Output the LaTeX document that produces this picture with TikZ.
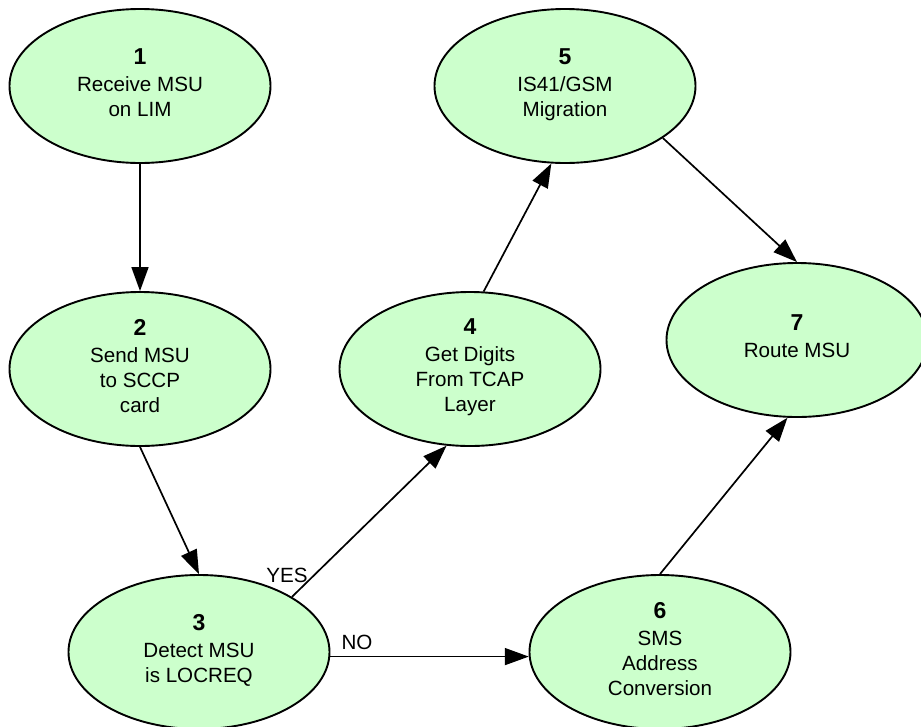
\documentclass[tikz,border=0pt]{standalone}
\usepackage{fontspec}
\setmainfont{Liberation Sans}
\usetikzlibrary{shapes.geometric,arrows.meta}
\definecolor{nodegreen}{RGB}{204,255,204}
\newcommand{\lowpad}{\rule[-7pt]{0pt}{7pt}}
\begin{document}
\begin{tikzpicture}[x=1pt,y=-1pt,
  stepnode/.style={ellipse,draw=black,line width=1.9pt,fill=nodegreen,
    minimum width=261pt,minimum height=154pt,inner sep=0pt,align=center,
    font=\fontsize{20.6}{25}\selectfont},
  conn/.style={line width=1.7pt,-{Triangle[length=24pt,width=17pt]}},
  lbl/.style={font=\fontsize{20.6}{24}\selectfont,inner sep=0pt}]
\useasboundingbox (0,0) rectangle (921,726);
\node[stepnode] (n1) at (140,86) {{\fontsize{23}{25}\selectfont\bfseries 1}\\[2pt]Receive MSU\\on LIM\lowpad};
\node[stepnode] (n2) at (140,369) {{\fontsize{23}{25}\selectfont\bfseries 2}\\[2pt]Send MSU\\to SCCP\\card\lowpad};
\node[stepnode] (n3) at (199,652) {{\fontsize{23}{25}\selectfont\bfseries 3}\\[2pt]Detect MSU\\is LOCREQ\lowpad};
\node[stepnode] (n4) at (470,369) {{\fontsize{23}{25}\selectfont\bfseries 4}\\[2pt]Get Digits\\From TCAP\\Layer\lowpad};
\node[stepnode] (n5) at (565,86) {{\fontsize{23}{25}\selectfont\bfseries 5}\\[2pt]IS41/GSM\\Migration\lowpad};
\node[stepnode] (n6) at (660,652) {{\fontsize{23}{25}\selectfont\bfseries 6}\\[2pt]SMS\\Address\\Conversion\lowpad};
\node[stepnode] (n7) at (797,340) {{\fontsize{23}{25}\selectfont\bfseries 7}\\[2pt]Route MSU\lowpad};
\draw[conn] (n1.south) -- (n2.north);
\draw[conn] (n2.south) -- (n3.north);
\draw[conn] (n3.north east) -- (n4.253);
\draw[conn] (n4.80) -- (n5.260);
\draw[conn] (n5.-28) -- (n7.north);
\draw[conn] (n3.-2) -- (n6.182);
\draw[conn] (n6.north) -- (n7.263);
\node[lbl] (yes) at (287,575) {YES};
\node[lbl] (no) at (357,642) {NO};
\end{tikzpicture}
\end{document}
